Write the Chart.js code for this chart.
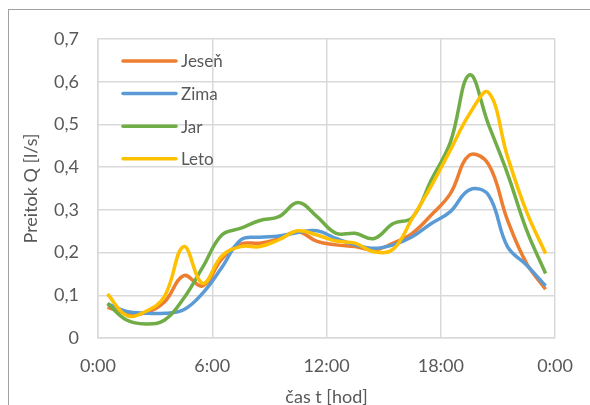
<!DOCTYPE html>
<html>
<head>
<meta charset="utf-8">
<script src="https://cdn.jsdelivr.net/npm/chart.js@4.4.1/dist/chart.umd.min.js"></script>
<style>
  html, body { margin: 0; padding: 0; background: #fff; overflow: hidden; }
  #wrap { position: relative; width: 590px; height: 405px; }
</style>
</head>
<body>
<div id="wrap"><canvas id="chart" width="590" height="405"></canvas></div>
<script>
// hodiny (stred intervalu)
const hours = [0.5, 1.5, 2.5, 3.5, 4.5, 5.5, 6.5, 7.5, 8.5, 9.5, 10.5, 11.5,
               12.5, 13.5, 14.5, 15.5, 16.5, 17.5, 18.5, 19.5, 20.5, 21.5, 22.5, 23.5];

const jesen = [0.072, 0.058, 0.059, 0.085, 0.146, 0.122, 0.185, 0.220, 0.222, 0.232, 0.249, 0.226,
               0.218, 0.214, 0.206, 0.222, 0.245, 0.288, 0.338, 0.428, 0.407, 0.276, 0.175, 0.114];
const zima  = [0.080, 0.062, 0.058, 0.058, 0.066, 0.105, 0.165, 0.230, 0.236, 0.239, 0.247, 0.251,
               0.233, 0.218, 0.210, 0.218, 0.237, 0.268, 0.296, 0.347, 0.335, 0.214, 0.171, 0.122];
const jar   = [0.081, 0.042, 0.033, 0.042, 0.093, 0.166, 0.241, 0.257, 0.275, 0.284, 0.317, 0.284,
               0.245, 0.245, 0.233, 0.268, 0.282, 0.370, 0.458, 0.616, 0.500, 0.385, 0.253, 0.151];
const leto  = [0.103, 0.053, 0.062, 0.098, 0.214, 0.128, 0.192, 0.214, 0.214, 0.230, 0.251, 0.241,
               0.227, 0.222, 0.202, 0.208, 0.280, 0.356, 0.440, 0.524, 0.575, 0.425, 0.296, 0.198];

const seriesNames = ['Jeseň', 'Zima', 'Jar', 'Leto'];
const seriesColors = ['#ED7D31', '#5B9BD5', '#70AD47', '#FFC000'];
const xTickLabels = ['0:00', '6:00', '12:00', '18:00', '0:00'];

const textColor = '#595959';
const gridColor = '#d9d9d9';
const fontFamily = 'Lato, "Open Sans", sans-serif';

function toPoints(values) {
  return values.map((v, i) => ({ x: hours[i], y: v }));
}

// legenda vo vnutri grafu + ramcek
const excelDecor = {
  id: 'excelDecor',
  beforeDraw(chart) {
    const ctx = chart.ctx;
    ctx.save();
    ctx.strokeStyle = '#a0a0a0';
    ctx.lineWidth = 1;
    ctx.strokeRect(8.5, 9.5, 700, 700);
    ctx.restore();
  },
  afterDatasetsDraw(chart) {
    const ctx = chart.ctx;
    const x0 = 123, x1 = 176, y0 = 61, dy = 32.6;
    ctx.save();
    ctx.font = '17px ' + fontFamily;
    ctx.textBaseline = 'middle';
    ctx.fillStyle = textColor;
    chart.data.datasets.forEach((ds, i) => {
      const y = y0 + i * dy;
      ctx.strokeStyle = ds.borderColor;
      ctx.lineWidth = 3.5;
      ctx.lineCap = 'round';
      ctx.beginPath();
      ctx.moveTo(x0, y);
      ctx.lineTo(x1, y);
      ctx.stroke();
      ctx.fillText(ds.label, x1 + 5, y + 1);
    });
    ctx.restore();
  }
};

const datasets = [jesen, zima, jar, leto].map((vals, i) => ({
  label: seriesNames[i],
  data: toPoints(vals),
  borderColor: seriesColors[i],
  backgroundColor: seriesColors[i],
  borderWidth: 3.5,
  pointRadius: 0,
  tension: 0.4,
  fill: false,
  order: 4 - i
}));

new Chart(document.getElementById('chart'), {
  type: 'line',
  data: { datasets: datasets },
  options: {
    responsive: false,
    animation: false,
    layout: { padding: { left: 0, top: 39, right: 32, bottom: 0 } },
    plugins: {
      legend: { display: false },
      tooltip: { enabled: false }
    },
    scales: {
      x: {
        type: 'linear',
        min: 0,
        max: 24,
        afterFit: (scale) => { scale.height = 67; },
        afterBuildTicks: (scale) => {
          scale.ticks = xTickLabels.map((_, i) => ({ value: i * 6 }));
        },
        ticks: {
          padding: 17,
          color: textColor,
          font: { family: fontFamily, size: 18 },
          maxRotation: 0,
          callback: (value) => xTickLabels[Math.round(value / 6)]
        },
        grid: { color: gridColor, lineWidth: 1.5, drawTicks: false },
        border: { color: gridColor, width: 1.5 },
        title: {
          display: true,
          text: 'čas t [hod]',
          color: textColor,
          font: { family: fontFamily, size: 18 },
          padding: { top: 0, bottom: -3 }
        }
      },
      y: {
        min: 0,
        max: 0.7,
        afterFit: (scale) => { scale.width = 98; },
        ticks: {
          stepSize: 0.1,
          padding: 19,
          color: textColor,
          font: { family: fontFamily, size: 18 },
          callback: (value) => value === 0 ? '0' : value.toFixed(1).replace('.', ',')
        },
        grid: { color: gridColor, lineWidth: 1.5, drawTicks: false },
        border: { color: gridColor, width: 1.5 },
        title: {
          display: true,
          text: 'Preitok Q [l/s]',
          color: textColor,
          font: { family: fontFamily, size: 18 },
          padding: { top: 20, bottom: 0 }
        }
      }
    }
  },
  plugins: [excelDecor]
});
</script>
</body>
</html>
